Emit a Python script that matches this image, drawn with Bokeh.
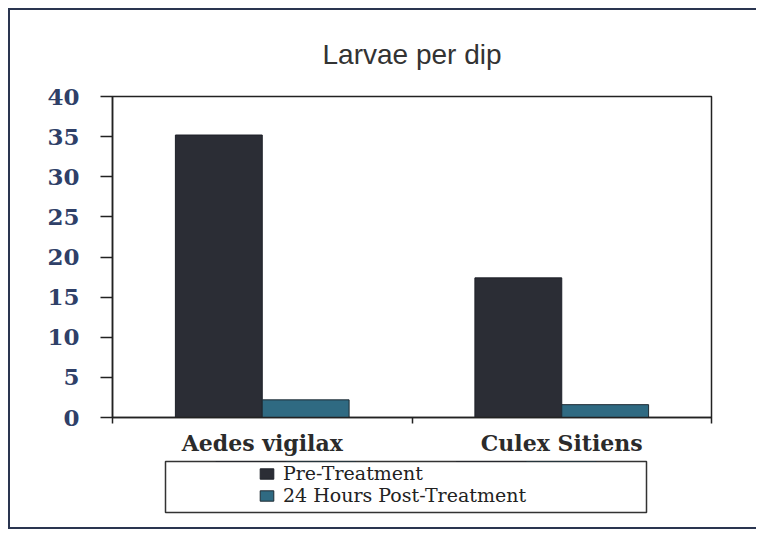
from bokeh.plotting import figure
from bokeh.layouts import column
from bokeh.models import (ColumnDataSource, FactorRange, Range1d, LinearAxis, FixedTicker,
                          Legend, LegendItem)
from bokeh.transform import dodge
from bokeh.embed import file_html
from bokeh.resources import INLINE

# ---- data ----
species = ["Aedes vigilax", "Culex Sitiens"]
pre_treatment = [35.2, 17.4]
post_treatment = [2.2, 1.6]
series_names = ["Pre-Treatment", "24 Hours Post-Treatment"]
y_ticks = [0, 5, 10, 15, 20, 25, 30, 35, 40]

PRE_COLOR = "#2b2d35"
POST_COLOR = "#2f6a82"
FRAME = "2px solid #2a3550"

source = ColumnDataSource(dict(species=species, pre=pre_treatment, post=post_treatment))

# ---------------- main chart ----------------
p = figure(width=748, height=448, x_range=FactorRange(*species), y_range=Range1d(0, 40),
           output_backend="svg", toolbar_location=None, x_axis_type=None,
           min_border_left=102, min_border_right=47, min_border_top=86, min_border_bottom=41,
           styles={"border-left": FRAME, "border-top": FRAME})
p.frame_align = False

p.title.text = "Larvae per dip"
p.title.align = "center"
p.title.text_font = "Liberation Sans"
p.title.text_font_size = "28px"
p.title.text_font_style = "normal"
p.title.text_color = "#333333"
p.title.standoff = 53

p.grid.visible = False
p.outline_line_color = "#222222"
p.outline_line_width = 1.5
p.background_fill_color = "white"
p.border_fill_color = "white"

ya = p.yaxis[0]
ya.ticker = FixedTicker(ticks=y_ticks)
ya.major_tick_out = 12
ya.major_tick_in = 0
ya.minor_tick_line_color = None
ya.axis_line_color = "#222222"
ya.axis_line_width = 1.5
ya.major_tick_line_color = "#222222"
ya.major_tick_line_width = 1.5
ya.major_label_text_font = "DejaVu Serif"
ya.major_label_text_font_style = "bold"
ya.major_label_text_font_size = "23px"
ya.major_label_text_color = "#2f4068"
ya.major_label_standoff = 21

xa = LinearAxis(ticker=FixedTicker(ticks=[0.5, 1.5], minor_ticks=[0, 1, 2]),
                major_label_overrides={0.5: species[0], 1.5: species[1]})
xa.major_tick_line_color = None
xa.major_tick_out = 0
xa.major_tick_in = 0
xa.minor_tick_out = 6
xa.minor_tick_in = 0
xa.minor_tick_line_color = "#222222"
xa.minor_tick_line_width = 1.5
xa.axis_line_color = "#222222"
xa.axis_line_width = 1.5
xa.major_label_text_font = "DejaVu Serif"
xa.major_label_text_font_style = "bold"
xa.major_label_text_font_size = "22px"
xa.major_label_text_color = "#2b2b2b"
xa.major_label_standoff = 6
p.add_layout(xa, "below")

p.vbar(x=dodge("species", -0.145, range=p.x_range), top="pre", width=0.29,
       source=source, fill_color=PRE_COLOR, line_color="#1d2028", line_width=1)
p.vbar(x=dodge("species", 0.145, range=p.x_range), top="post", width=0.29,
       source=source, fill_color=POST_COLOR, line_color="#1d2a33", line_width=1)

# ---------------- legend panel (frame = legend box) ----------------
lg = figure(width=748, height=73, x_range=FactorRange(*species), y_range=Range1d(-2, -1),
            output_backend="svg", toolbar_location=None, x_axis_type=None, y_axis_type=None,
            min_border_left=155, min_border_right=112, min_border_top=5, min_border_bottom=17,
            styles={"border-left": FRAME, "border-bottom": FRAME})
lg.frame_align = False
lg.grid.visible = False
lg.outline_line_color = "#333333"
lg.outline_line_width = 1.5
lg.border_fill_color = "white"

# legend proxies share the same data (out of the visible y-range)
l_pre = lg.vbar(x=dodge("species", -0.145, range=lg.x_range), top="pre", width=0.29,
                source=source, fill_color=PRE_COLOR, line_color="#1d2028", line_width=1)
l_post = lg.vbar(x=dodge("species", 0.145, range=lg.x_range), top="post", width=0.29,
                 source=source, fill_color=POST_COLOR, line_color="#1d2a33", line_width=1)

legend = Legend(items=[LegendItem(label=series_names[0], renderers=[l_pre]),
                       LegendItem(label=series_names[1], renderers=[l_post])],
                location=(93, 6), orientation="vertical")
legend.border_line_color = None
legend.background_fill_alpha = 0
legend.padding = 0
legend.margin = 0
legend.spacing = -4
legend.glyph_width = 17
legend.glyph_height = 13
legend.label_height = 18
legend.label_standoff = 8
legend.label_text_font = "DejaVu Serif"
legend.label_text_font_size = "19px"
legend.label_text_color = "#222222"
legend.label_text_baseline = "middle"
lg.add_layout(legend, "center")

layout = column(p, lg, spacing=0, styles={"margin": "8px 0 0 8px"})

open("out.html", "w").write(file_html(layout, INLINE))
